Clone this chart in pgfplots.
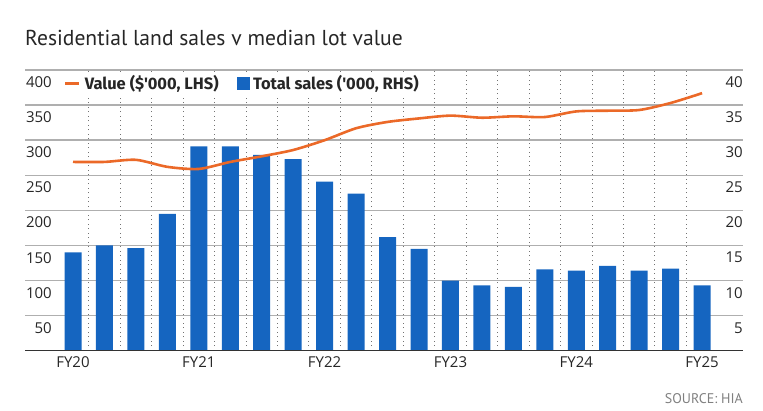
\documentclass[border=0pt]{standalone}
\usepackage{pgfplots}
\pgfplotsset{compat=1.18}
\usepackage{pgfplotstable}
\usepackage{fontspec}
\setmainfont{Open Sans}
\newfontfamily\titlefont{PT Sans}
\newfontfamily\legfont{Fira Sans}
\definecolor{barblue}{RGB}{21,101,192}
\definecolor{lineorange}{RGB}{235,105,40}
\definecolor{gridgray}{RGB}{175,175,175}

\pgfplotstableread{
x sales value
0 14.0 269
1 15.0 269
2 14.6 272
3 19.5 262
4 29.1 259
5 29.1 269
6 27.9 277
7 27.3 286
8 24.1 300
9 22.4 317
10 16.2 326
11 14.5 331
12 10.0 335
13 9.3 332
14 9.1 334
15 11.6 333
16 11.4 341
17 12.1 342
18 11.4 343
19 11.7 353
20 9.3 367
}\data

\pgfplotsset{
  myax/.style={
    scale only axis, width=718pt, height=280.7pt,
    xmin=-1.526, xmax=21.30, ymin=0,
    axis x line*=bottom, axis y line*=left,
    axis line style={draw=none}, tick style={draw=none},
    major tick length=0pt, minor tick length=0pt,
    tick label style={font=\fontsize{15}{18}\selectfont, text=black!85},
    /pgf/number format/assume math mode=true,
    clip=false,
  }
}

\begin{document}
\begin{tikzpicture}[x=1pt,y=1pt]
\path[use as bounding box] (0,0) rectangle (763,410);
\node[anchor=base west, inner sep=0pt, text=black!85,
  font=\titlefont\fontsize{21.6}{25}\selectfont] at (25,364) {Residential land sales v median lot value};

% bars, right axis, grid
\begin{axis}[myax, at={(25pt,59.3pt)}, anchor=south west,
  ymax=40, ytick={5,10,...,40}, yticklabel pos=right,
  axis y line*=right,
  yticklabel style={anchor=north east, inner sep=0pt, yshift=-6.5pt},
  ymajorgrids, major grid style={gridgray, line width=1.4pt},
  xtick={0,4,...,20}, xticklabels={FY20,FY21,FY22,FY23,FY24,FY25},
  xticklabel style={anchor=north, inner sep=0pt, yshift=-6pt},
  minor xtick={0.5,1.5,...,19.5}, xminorgrids,
  minor grid style={black!55, line width=1pt, dash pattern=on 1pt off 3.5pt},
]
\addplot[ybar, bar width=17pt, fill=barblue, draw=none] table[x=x,y=sales]{\data};
\draw[black!80, line width=1.3pt] (rel axis cs:0,0) -- (rel axis cs:1,0);
\end{axis}

% line, left axis, legend
\begin{axis}[myax, at={(25pt,59.3pt)}, anchor=south west,
  ymax=400, ytick={50,100,...,400}, yticklabel pos=left,
  yticklabel style={anchor=north east, inner sep=0pt, xshift=27pt, yshift=-6.5pt},
  xtick=\empty,
  legend columns=2,
  legend cell align=left,
  legend style={at={(rel axis cs:0.0487,0.995)}, anchor=north west, draw=none, fill=white,
    font=\legfont\bfseries\fontsize{16.5}{19}\selectfont, text=black!85,
    inner xsep=4pt, inner ysep=2pt,
    /tikz/every odd column/.append style={column sep=2pt},
    /tikz/every even column/.append style={column sep=16pt}},
]
\addplot[lineorange, line width=2.6pt, smooth, tension=0.45,
  legend image code/.code={\draw[lineorange, line width=2.6pt] (0pt,0pt) -- (14pt,0pt);}]
  table[x=x,y=value]{\data};
\addlegendimage{legend image code/.code={\fill[barblue] (0pt,-6pt) rectangle (12pt,6pt);}}
\legend{{Value (\$'000, LHS)}, {Total sales ('000, RHS)}}
\end{axis}

\node[anchor=base east, inner sep=0pt, text=black!50,
  font=\titlefont\fontsize{14}{16}\selectfont] at (743,6.7) {SOURCE: HIA};
\end{tikzpicture}
\end{document}
